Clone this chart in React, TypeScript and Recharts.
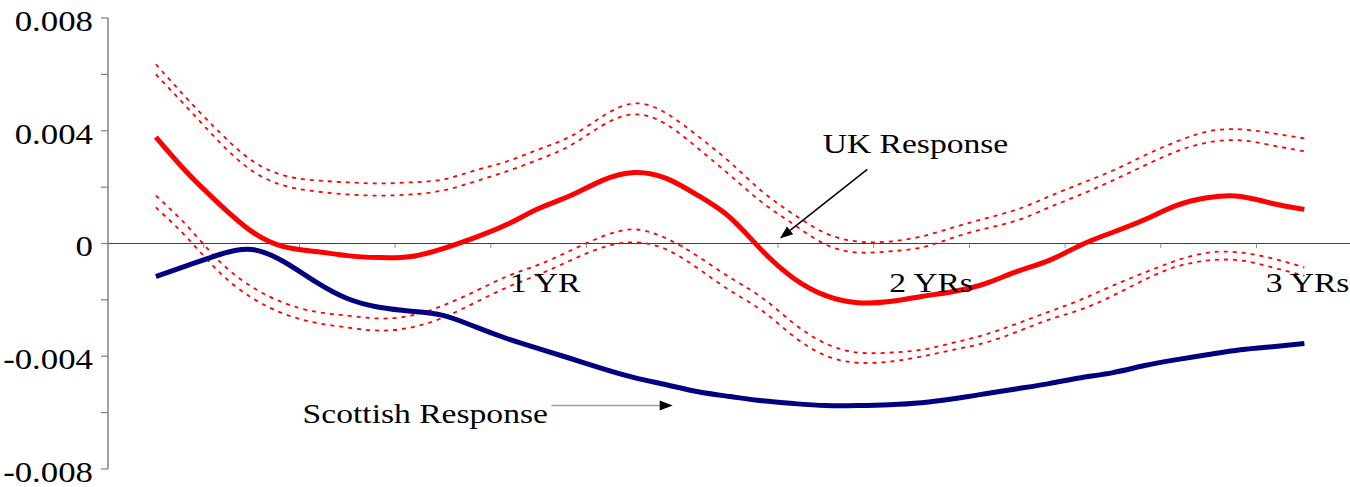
import React from "react";
import { LineChart, Line, XAxis, YAxis, ReferenceLine, ReferenceDot } from "recharts";

// months after the shock (one point per month)
const periods = [
  1, 2, 3, 4, 5, 6, 7, 8, 9, 10, 11, 12, 13, 14, 15, 16, 17, 18, 19, 20,
  21, 22, 23, 24, 25, 26, 27, 28, 29, 30, 31, 32, 33, 34, 35, 36, 37,
];

const ukResponse = [
  0.00377, 0.00249, 0.00139, 0.00043, -0.00011, -0.00028, -0.00043, -0.0005, -0.00046, -0.00018,
  0.00021, 0.00067, 0.00124, 0.0017, 0.00224, 0.00252, 0.00231, 0.0017, 0.00092, -0.00025,
  -0.00124, -0.00185, -0.0021, -0.00206, -0.00188, -0.0017, -0.00142, -0.00099, -0.0006, -0.00005,
  0.0004, 0.00085, 0.00135, 0.00163, 0.00167, 0.00142, 0.00121,
];

const ukUpperOuter = [
  0.00636, 0.00511, 0.00394, 0.00295, 0.00242, 0.00224, 0.00217, 0.00213, 0.00217, 0.00227,
  0.00259, 0.00291, 0.00334, 0.0038, 0.00451, 0.00497, 0.00462, 0.0038, 0.00288, 0.00185,
  0.00103, 0.00036, 0.00007, 0.00007, 0.00025, 0.00057, 0.00089, 0.00121, 0.00167, 0.00213,
  0.00259, 0.00313, 0.00362, 0.00398, 0.00405, 0.00391, 0.00373,
];

const ukUpperInner = [
  0.006, 0.0048, 0.00359, 0.00259, 0.00206, 0.00185, 0.00174, 0.0017, 0.00174, 0.00188,
  0.0022, 0.00256, 0.00298, 0.00348, 0.00419, 0.00458, 0.00423, 0.00337, 0.00242, 0.00146,
  0.00067, -0.00004, -0.00032, -0.00028, -0.00014, 0.00021, 0.00053, 0.00082, 0.00128, 0.00174,
  0.00224, 0.00277, 0.00327, 0.00359, 0.00366, 0.00348, 0.00327,
];

const ukLowerInner = [
  0.0017, 0.0006, -0.00064, -0.00153, -0.0021, -0.00242, -0.00256, -0.00266, -0.00256, -0.0022,
  -0.0017, -0.00117, -0.00075, -0.00025, 0.00025, 0.0005, 0.00018, -0.00046, -0.00121, -0.00192,
  -0.00284, -0.00355, -0.00387, -0.00387, -0.00377, -0.00352, -0.00323, -0.00284, -0.00242, -0.00199,
  -0.00149, -0.00103, -0.0006, -0.00032, -0.00032, -0.00053, -0.00085,
];

const ukLowerOuter = [
  0.00128, 0.00018, -0.00103, -0.00192, -0.00249, -0.00281, -0.00298, -0.00309, -0.00298, -0.00263,
  -0.0021, -0.00156, -0.0011, -0.0006, -0.00014, 0.00004, -0.00021, -0.00089, -0.00167, -0.00238,
  -0.0033, -0.00398, -0.00423, -0.00419, -0.00401, -0.00377, -0.00352, -0.00313, -0.0027, -0.00234,
  -0.00185, -0.00128, -0.00082, -0.0006, -0.0006, -0.00085, -0.00114,
];

const scottishResponse = [
  -0.00117, -0.00078, -0.00039, -0.00021, -0.00064, -0.00135, -0.00195, -0.00226, -0.0024, -0.00255,
  -0.00295, -0.00337, -0.00373, -0.00408, -0.00444, -0.00476, -0.00501, -0.00526, -0.00543, -0.00558,
  -0.00568, -0.00575, -0.00575, -0.00572, -0.00565, -0.00551, -0.00533, -0.00515, -0.00497, -0.00476,
  -0.00458, -0.00433, -0.00412, -0.00394, -0.00377, -0.00366, -0.00355,
];

const yTicks = [-0.008, -0.006, -0.004, -0.002, 0, 0.002, 0.004, 0.006, 0.008];
const yTickLabels = ["-0.008", "-0.004", "0", "0.004", "0.008"];
const quarterTicks = [2.5, 5.5, 8.5, 11.5, 14.5, 17.5, 20.5, 23.5, 26.5, 29.5, 32.5, 35.5];
const yearLabels = ["1 YR", "2 YRs", "3 YRs"];
const yearLabelAt = [13.2, 25.3, 37.1];

const data = periods.map((p, i) => ({
  p,
  uk: ukResponse[i],
  upOuter: ukUpperOuter[i],
  upInner: ukUpperInner[i],
  lowInner: ukLowerInner[i],
  lowOuter: ukLowerOuter[i],
  scot: scottishResponse[i],
}));

const FONT = "'Liberation Serif', 'Times New Roman', serif";
const STRETCH = 1.2;

// the original's lettering is a bit wider than Times, so stretch it sideways
function WideText({ x, y, anchor = "start", size = 28, children }: any) {
  return (
    <text
      transform={`translate(${x},${y + size * 0.34}) scale(${STRETCH},1)`}
      textAnchor={anchor}
      fontFamily={FONT}
      fontSize={size}
      fill="#000"
    >
      {children}
    </text>
  );
}

const YTick = ({ x, y, payload }: any) => {
  const v = payload.value;
  const s = Math.abs(v) < 1e-9 ? "0" : v.toFixed(3);
  if (!yTickLabels.includes(s)) return null;
  return (
    <WideText x={x} y={y + 3} anchor="end" size={29}>
      {s}
    </WideText>
  );
};

const makeArrow = (lineColor: string) => (props: any) => {
  const { x1, y1, x2, y2 } = props;
  const dx = x2 - x1;
  const dy = y2 - y1;
  const len = Math.sqrt(dx * dx + dy * dy) || 1;
  const ux = dx / len;
  const uy = dy / len;
  const head = 13;
  const half = 5;
  const bx = x2 - ux * head;
  const by = y2 - uy * head;
  const pts = `${x2},${y2} ${bx - uy * half},${by + ux * half} ${bx + uy * half},${by - ux * half}`;
  return (
    <g>
      <line x1={x1} y1={y1} x2={bx} y2={by} stroke={lineColor} strokeWidth={1.5} />
      <polygon points={pts} fill="#000" />
    </g>
  );
};

const bandStyle = {
  stroke: "#ff0000",
  strokeWidth: 1.8,
  strokeDasharray: "4 5",
};

export default function App() {
  return (
    <div style={{ position: "absolute", left: 0, top: 0, background: "#fff" }}>
      <LineChart width={1350} height={487} data={data} margin={{ top: 18, right: 0, bottom: 18, left: 0 }}>
        <XAxis type="number" dataKey="p" domain={[-0.5, 38.43]} hide />
        <YAxis
          type="number"
          domain={[-0.008, 0.008]}
          ticks={yTicks}
          interval={0}
          width={108}
          tickSize={7}
          tickMargin={8}
          axisLine={{ stroke: "#808080", strokeWidth: 1.5 }}
          tickLine={{ stroke: "#808080", strokeWidth: 1.2 }}
          tick={<YTick />}
        />
        <ReferenceLine y={0} stroke="#404040" strokeWidth={1.2} />
        {quarterTicks.map((t) => (
          <ReferenceLine
            key={t}
            segment={[
              { x: t, y: 0 },
              { x: t, y: -0.00016 },
            ]}
            stroke="#909090"
            strokeWidth={1}
          />
        ))}
        {yearLabels.map((lab, i) => (
          <ReferenceDot
            key={lab}
            x={yearLabelAt[i]}
            y={-0.0014}
            r={0}
            shape={(p: any) => (
              <WideText x={p.cx} y={p.cy} anchor="middle" size={28}>
                {lab}
              </WideText>
            )}
          />
        ))}
        <Line type="natural" dataKey="upOuter" {...bandStyle} dot={false} activeDot={false} isAnimationActive={false} />
        <Line type="natural" dataKey="upInner" {...bandStyle} dot={false} activeDot={false} isAnimationActive={false} />
        <Line type="natural" dataKey="lowInner" {...bandStyle} dot={false} activeDot={false} isAnimationActive={false} />
        <Line type="natural" dataKey="lowOuter" {...bandStyle} dot={false} activeDot={false} isAnimationActive={false} />
        <Line type="natural" dataKey="uk" stroke="#ff0000" strokeWidth={5} dot={false} activeDot={false} isAnimationActive={false} />
        <Line type="natural" dataKey="scot" stroke="#000080" strokeWidth={5} dot={false} activeDot={false} isAnimationActive={false} />
        <ReferenceDot
          x={21.9}
          y={0.00355}
          r={0}
          shape={(p: any) => (
            <WideText x={p.cx} y={p.cy} size={28}>
              UK Response
            </WideText>
          )}
        />
        <ReferenceLine
          segment={[
            { x: 23.3, y: 0.00263 },
            { x: 20.56, y: 0.00018 },
          ]}
          shape={makeArrow("#000")}
        />
        <ReferenceDot
          x={5.6}
          y={-0.00604}
          r={0}
          shape={(p: any) => (
            <WideText x={p.cx} y={p.cy} size={28}>
              Scottish Response
            </WideText>
          )}
        />
        <ReferenceLine
          segment={[
            { x: 13.4, y: -0.00575 },
            { x: 17.2, y: -0.00575 },
          ]}
          shape={makeArrow("#a0a0a0")}
        />
      </LineChart>
    </div>
  );
}
